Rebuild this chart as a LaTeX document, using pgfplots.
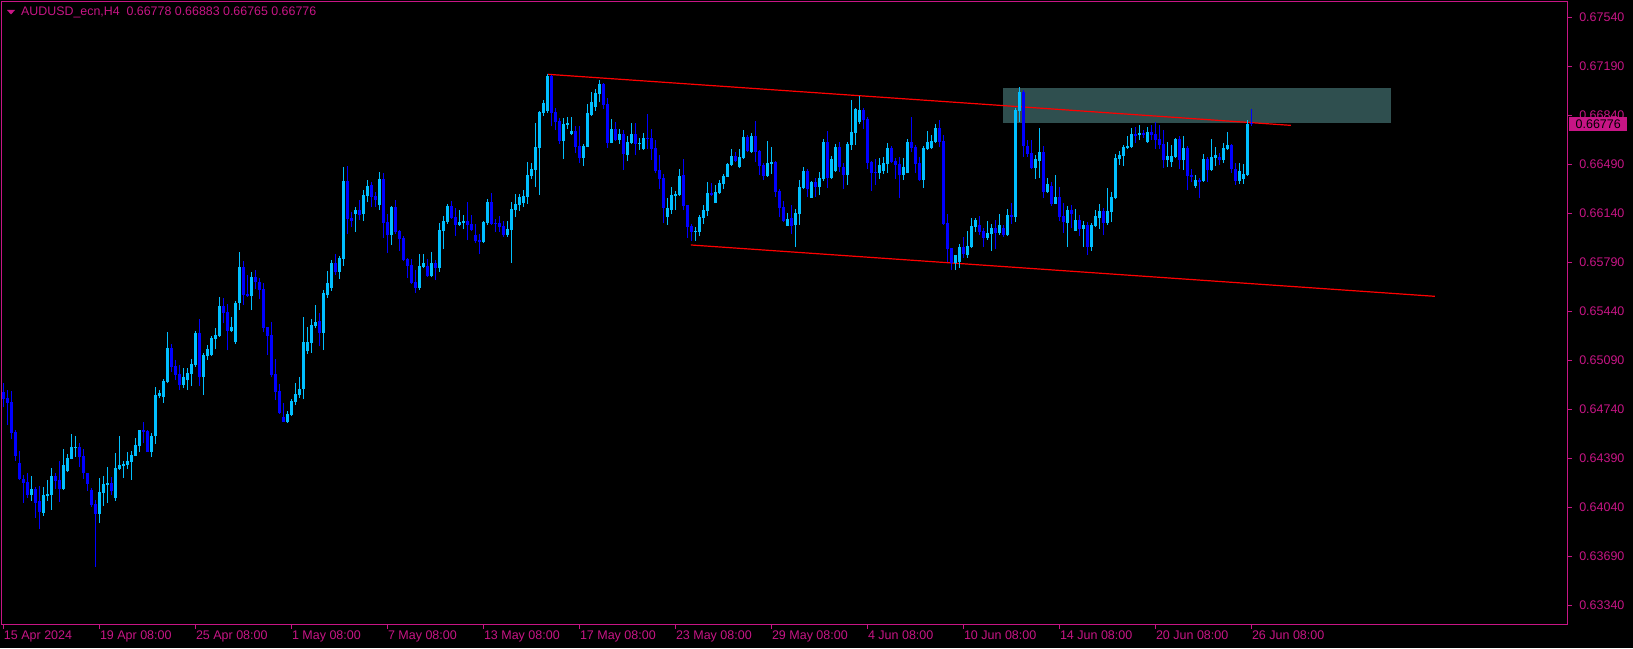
\documentclass[border=0pt]{standalone}
\usepackage{fontspec}
\setmainfont{Liberation Sans}
\usepackage{pgfplots}
\usepackage{pgfplotstable}
\pgfplotsset{compat=1.18}
\definecolor{mvr}{RGB}{199,21,133}
\definecolor{bullc}{RGB}{0,191,255}
\definecolor{bearc}{RGB}{0,0,255}
\definecolor{zone}{RGB}{47,79,79}

% bullish candles (close >= open)
\pgfplotstableread{
k o h l c
7 0.64129 0.64262 0.64086 0.64167
10 0.63998 0.64186 0.63979 0.64126
11 0.64119 0.64234 0.64086 0.64134
12 0.64129 0.64319 0.64022 0.64262
15 0.64169 0.64455 0.64162 0.64341
16 0.64298 0.64422 0.64291 0.64391
17 0.64386 0.64562 0.64381 0.64467
18 0.64462 0.64548 0.64400 0.64470
24 0.63993 0.64250 0.63929 0.64148
25 0.64143 0.64262 0.64050 0.64205
26 0.64198 0.64327 0.64072 0.64212
28 0.64107 0.64427 0.64086 0.64319
29 0.64312 0.64548 0.64305 0.64339
30 0.64334 0.64369 0.64250 0.64348
31 0.64343 0.64434 0.64312 0.64369
32 0.64365 0.64441 0.64236 0.64412
33 0.64408 0.64534 0.64405 0.64484
34 0.64477 0.64591 0.64436 0.64591
37 0.64436 0.64567 0.64400 0.64548
38 0.64548 0.64898 0.64493 0.64841
39 0.64837 0.64877 0.64817 0.64856
40 0.64829 0.64956 0.64786 0.64941
41 0.64937 0.65292 0.64925 0.65177
45 0.64913 0.65032 0.64889 0.64970
46 0.64948 0.65032 0.64877 0.64996
47 0.64991 0.65096 0.64906 0.65063
48 0.65056 0.65299 0.65044 0.65287
50 0.64972 0.65139 0.64841 0.65127
51 0.65120 0.65200 0.65092 0.65170
52 0.65127 0.65263 0.65120 0.65251
53 0.65242 0.65318 0.65170 0.65270
54 0.65263 0.65544 0.65258 0.65478
57 0.65299 0.65397 0.65292 0.65330
58 0.65220 0.65513 0.65206 0.65497
59 0.65501 0.65864 0.65449 0.65756
62 0.65549 0.65721 0.65449 0.65685
71 0.64648 0.64729 0.64644 0.64706
72 0.64698 0.64813 0.64691 0.64798
73 0.64794 0.64925 0.64770 0.64848
74 0.64841 0.64970 0.64822 0.64884
75 0.64884 0.65401 0.64813 0.65220
76 0.65156 0.65330 0.65137 0.65220
77 0.65215 0.65385 0.65144 0.65342
78 0.65337 0.65485 0.65318 0.65363
80 0.65287 0.65592 0.65163 0.65571
81 0.65556 0.65728 0.65537 0.65642
82 0.65606 0.65806 0.65587 0.65785
84 0.65721 0.65835 0.65671 0.65821
85 0.65814 0.66471 0.65766 0.66371
88 0.66135 0.66185 0.66007 0.66164
90 0.66135 0.66307 0.66085 0.66271
91 0.66264 0.66378 0.66221 0.66335
94 0.66200 0.66436 0.66164 0.66386
97 0.65985 0.66192 0.65914 0.66185
104 0.65606 0.65849 0.65592 0.65764
105 0.65759 0.65847 0.65747 0.65785
107 0.65692 0.65864 0.65683 0.65785
109 0.65749 0.66069 0.65721 0.66021
110 0.66016 0.66121 0.65885 0.66085
111 0.66078 0.66207 0.66064 0.66195
114 0.66057 0.66164 0.66050 0.66078
115 0.66071 0.66128 0.66028 0.66085
120 0.65935 0.66085 0.65928 0.66078
121 0.66071 0.66243 0.66057 0.66221
126 0.65985 0.66085 0.65971 0.66028
127 0.66021 0.66221 0.65787 0.66171
128 0.66164 0.66276 0.66114 0.66207
129 0.66200 0.66278 0.66157 0.66257
130 0.66214 0.66307 0.66185 0.66264
131 0.66257 0.66507 0.66207 0.66414
132 0.66407 0.66500 0.66386 0.66457
133 0.66450 0.66786 0.66328 0.66614
134 0.66607 0.66872 0.66271 0.66865
135 0.66857 0.66950 0.66836 0.66929
136 0.66872 0.67136 0.66857 0.67122
140 0.66657 0.66822 0.66528 0.66779
141 0.66772 0.66829 0.66743 0.66786
142 0.66707 0.66829 0.66700 0.66729
145 0.66536 0.66636 0.66478 0.66621
146 0.66614 0.66922 0.66614 0.66857
147 0.66843 0.67007 0.66836 0.66936
148 0.66900 0.67029 0.66872 0.67000
149 0.66993 0.67093 0.66936 0.67065
152 0.66645 0.66814 0.66640 0.66743
154 0.66664 0.66743 0.66636 0.66707
156 0.66557 0.66693 0.66514 0.66650
157 0.66643 0.66786 0.66636 0.66707
159 0.66636 0.66679 0.66593 0.66643
160 0.66600 0.66714 0.66593 0.66679
166 0.66114 0.66250 0.66057 0.66178
167 0.66164 0.66328 0.66135 0.66271
168 0.66264 0.66300 0.66164 0.66278
169 0.66271 0.66457 0.66264 0.66407
173 0.66007 0.66042 0.65942 0.66014
174 0.66007 0.66128 0.65978 0.66114
175 0.66107 0.66200 0.66064 0.66164
176 0.66157 0.66364 0.66121 0.66285
178 0.66214 0.66343 0.66214 0.66293
179 0.66285 0.66378 0.66278 0.66357
180 0.66350 0.66421 0.66314 0.66407
181 0.66402 0.66500 0.66400 0.66493
182 0.66486 0.66600 0.66478 0.66550
184 0.66471 0.66600 0.66464 0.66543
185 0.66536 0.66736 0.66528 0.66686
187 0.66579 0.66714 0.66571 0.66693
191 0.66407 0.66657 0.66400 0.66500
192 0.66493 0.66614 0.66421 0.66507
196 0.66049 0.66142 0.66049 0.66100
198 0.66057 0.66171 0.65899 0.66142
199 0.66135 0.66378 0.66057 0.66328
200 0.66321 0.66471 0.66314 0.66443
202 0.66250 0.66371 0.66250 0.66364
204 0.66328 0.66436 0.66271 0.66393
205 0.66388 0.66671 0.66371 0.66650
207 0.66393 0.66550 0.66385 0.66528
208 0.66443 0.66636 0.66436 0.66614
211 0.66414 0.66650 0.66343 0.66636
212 0.66629 0.66950 0.66593 0.66721
213 0.66714 0.66893 0.66629 0.66886
214 0.66793 0.66979 0.66779 0.66879
219 0.66428 0.66536 0.66385 0.66486
220 0.66443 0.66543 0.66421 0.66500
221 0.66493 0.66643 0.66428 0.66607
225 0.66414 0.66536 0.66378 0.66471
226 0.66428 0.66671 0.66428 0.66650
230 0.66378 0.66621 0.66321 0.66607
231 0.66600 0.66729 0.66593 0.66650
232 0.66607 0.66700 0.66600 0.66657
233 0.66650 0.66779 0.66643 0.66750
238 0.65787 0.65842 0.65735 0.65842
239 0.65792 0.65921 0.65752 0.65899
241 0.65842 0.66014 0.65821 0.65906
242 0.65899 0.66107 0.65892 0.66049
243 0.66042 0.66107 0.66007 0.66092
246 0.65964 0.66085 0.65949 0.65999
247 0.65992 0.66064 0.65871 0.66035
249 0.65999 0.66135 0.65985 0.66057
251 0.65985 0.66171 0.65978 0.66128
253 0.66114 0.66893 0.66078 0.66879
254 0.66872 0.67043 0.66793 0.67007
258 0.66464 0.66557 0.66385 0.66528
259 0.66514 0.66750 0.66393 0.66578
261 0.66293 0.66393 0.66285 0.66350
263 0.66207 0.66414 0.66207 0.66257
266 0.66071 0.66192 0.65899 0.66164
268 0.66014 0.66171 0.66014 0.66092
270 0.66028 0.66085 0.65899 0.66057
272 0.65899 0.66071 0.65871 0.66057
273 0.66049 0.66164 0.66042 0.66121
274 0.66107 0.66207 0.66028 0.66157
276 0.66071 0.66321 0.66057 0.66157
277 0.66150 0.66293 0.66078 0.66257
278 0.66250 0.66564 0.66242 0.66536
279 0.66528 0.66586 0.66486 0.66557
280 0.66550 0.66629 0.66478 0.66614
281 0.66607 0.66693 0.66600 0.66621
282 0.66614 0.66750 0.66607 0.66707
284 0.66700 0.66771 0.66664 0.66714
286 0.66650 0.66757 0.66643 0.66721
291 0.66521 0.66650 0.66471 0.66550
292 0.66507 0.66629 0.66471 0.66550
293 0.66543 0.66679 0.66536 0.66671
295 0.66521 0.66693 0.66450 0.66607
298 0.66335 0.66414 0.66321 0.66378
300 0.66371 0.66564 0.66364 0.66528
302 0.66450 0.66671 0.66443 0.66543
303 0.66536 0.66614 0.66478 0.66557
305 0.66521 0.66643 0.66500 0.66607
306 0.66600 0.66721 0.66593 0.66629
309 0.66371 0.66500 0.66350 0.66443
310 0.66385 0.66493 0.66350 0.66421
311 0.66414 0.66807 0.66407 0.66778
}\bull

% bearish candles (close < open)
\pgfplotstableread{
k o h l c
0 0.64865 0.64929 0.64753 0.64810
1 0.64822 0.64877 0.64627 0.64787
2 0.64791 0.64868 0.64527 0.64572
3 0.64577 0.64591 0.64372 0.64408
4 0.64353 0.64441 0.64234 0.64238
5 0.64238 0.64269 0.64072 0.64215
6 0.64219 0.64281 0.64107 0.64129
8 0.64167 0.64181 0.63964 0.64072
9 0.64084 0.64191 0.63886 0.64007
13 0.64262 0.64281 0.64172 0.64229
14 0.64234 0.64367 0.64079 0.64169
19 0.64467 0.64496 0.64329 0.64400
20 0.64405 0.64453 0.64243 0.64281
21 0.64281 0.64286 0.64157 0.64207
22 0.64162 0.64174 0.64043 0.64057
23 0.64062 0.64091 0.63614 0.63993
27 0.64212 0.64257 0.64126 0.64155
35 0.64593 0.64648 0.64496 0.64579
36 0.64584 0.64591 0.64436 0.64436
42 0.65177 0.65206 0.65008 0.65039
43 0.65049 0.65092 0.64949 0.64984
44 0.64991 0.65056 0.64877 0.64913
49 0.65287 0.65382 0.64906 0.64972
55 0.65478 0.65532 0.65354 0.65425
56 0.65435 0.65492 0.65163 0.65299
60 0.65756 0.65799 0.65485 0.65556
61 0.65563 0.65699 0.65544 0.65549
63 0.65685 0.65735 0.65602 0.65652
64 0.65652 0.65675 0.65525 0.65594
65 0.65599 0.65642 0.65292 0.65323
66 0.65325 0.65330 0.65127 0.65266
67 0.65270 0.65366 0.64968 0.64984
68 0.64991 0.65099 0.64806 0.64865
69 0.64870 0.64920 0.64706 0.64715
70 0.64686 0.64782 0.64651 0.64651
79 0.65370 0.65425 0.65194 0.65287
83 0.65785 0.65849 0.65697 0.65721
86 0.66371 0.66478 0.65992 0.66100
87 0.66107 0.66150 0.66042 0.66085
89 0.66164 0.66235 0.66092 0.66128
92 0.66343 0.66364 0.66185 0.66257
93 0.66264 0.66293 0.66185 0.66235
95 0.66386 0.66428 0.65964 0.66071
96 0.66078 0.66135 0.65856 0.65985
98 0.66185 0.66235 0.65992 0.66007
99 0.66014 0.66021 0.65871 0.65957
100 0.65964 0.65978 0.65799 0.65806
101 0.65814 0.65821 0.65678 0.65764
102 0.65771 0.65814 0.65635 0.65642
103 0.65649 0.65735 0.65571 0.65606
106 0.65766 0.65814 0.65687 0.65694
108 0.65785 0.65806 0.65663 0.65749
112 0.66195 0.66228 0.66100 0.66107
113 0.66114 0.66178 0.65978 0.66057
116 0.66085 0.66221 0.65949 0.66057
117 0.66064 0.66128 0.66014 0.66021
118 0.65985 0.66064 0.65928 0.65942
119 0.65949 0.65992 0.65849 0.65935
122 0.66221 0.66283 0.66057 0.66064
123 0.66071 0.66100 0.66007 0.66064
124 0.66071 0.66121 0.66007 0.66042
125 0.66050 0.66085 0.65971 0.65985
137 0.67122 0.67129 0.66764 0.66857
138 0.66865 0.66893 0.66736 0.66793
139 0.66800 0.66822 0.66636 0.66657
143 0.66729 0.66764 0.66571 0.66614
144 0.66621 0.66764 0.66500 0.66536
150 0.67065 0.67072 0.66886 0.66915
151 0.66922 0.66965 0.66607 0.66643
153 0.66743 0.66793 0.66660 0.66664
155 0.66707 0.66736 0.66450 0.66564
158 0.66707 0.66786 0.66557 0.66636
161 0.66679 0.66850 0.66600 0.66671
162 0.66679 0.66743 0.66521 0.66600
163 0.66607 0.66664 0.66428 0.66443
164 0.66450 0.66557 0.66314 0.66385
165 0.66393 0.66421 0.66069 0.66178
170 0.66414 0.66528 0.66164 0.66192
171 0.66200 0.66200 0.65964 0.66042
172 0.66049 0.66064 0.65942 0.66007
177 0.66285 0.66357 0.66264 0.66271
183 0.66550 0.66578 0.66507 0.66514
186 0.66686 0.66700 0.66579 0.66586
188 0.66693 0.66800 0.66507 0.66579
189 0.66586 0.66593 0.66414 0.66478
190 0.66485 0.66500 0.66378 0.66407
193 0.66507 0.66514 0.66257 0.66293
194 0.66300 0.66314 0.66114 0.66178
195 0.66185 0.66228 0.66078 0.66085
197 0.66107 0.66200 0.65992 0.66049
201 0.66443 0.66457 0.66257 0.66314
203 0.66364 0.66393 0.66257 0.66328
206 0.66650 0.66729 0.66321 0.66395
209 0.66614 0.66650 0.66436 0.66474
210 0.66471 0.66500 0.66314 0.66414
215 0.66879 0.66893 0.66743 0.66807
216 0.66814 0.66829 0.66457 0.66500
217 0.66507 0.66514 0.66300 0.66428
218 0.66435 0.66528 0.66343 0.66428
222 0.66607 0.66621 0.66500 0.66507
223 0.66514 0.66536 0.66385 0.66486
224 0.66493 0.66543 0.66250 0.66414
227 0.66650 0.66829 0.66578 0.66607
228 0.66614 0.66629 0.66428 0.66493
229 0.66500 0.66543 0.66371 0.66378
234 0.66750 0.66807 0.66614 0.66650
235 0.66657 0.66700 0.66057 0.66064
236 0.66071 0.66135 0.65792 0.65885
237 0.65892 0.65892 0.65735 0.65787
240 0.65899 0.65971 0.65821 0.65849
244 0.66057 0.66121 0.65985 0.66007
245 0.66014 0.66035 0.65899 0.65964
248 0.66035 0.66092 0.65885 0.65999
250 0.66035 0.66057 0.65971 0.65985
252 0.66128 0.66214 0.66064 0.66114
255 0.67007 0.67022 0.66543 0.66621
256 0.66621 0.66664 0.66543 0.66564
257 0.66571 0.66664 0.66457 0.66464
260 0.66578 0.66621 0.66250 0.66293
262 0.66335 0.66364 0.66192 0.66207
264 0.66257 0.66328 0.66085 0.66114
265 0.66121 0.66214 0.65999 0.66078
267 0.66164 0.66200 0.66035 0.66135
269 0.66092 0.66128 0.65978 0.66028
271 0.66057 0.66078 0.65842 0.65899
275 0.66157 0.66178 0.65985 0.66071
283 0.66707 0.66757 0.66643 0.66693
285 0.66714 0.66736 0.66679 0.66700
287 0.66721 0.66771 0.66664 0.66700
288 0.66707 0.66793 0.66600 0.66664
289 0.66671 0.66771 0.66600 0.66629
290 0.66636 0.66736 0.66464 0.66521
294 0.66671 0.66693 0.66457 0.66521
296 0.66607 0.66621 0.66307 0.66407
297 0.66414 0.66457 0.66364 0.66400
299 0.66378 0.66393 0.66250 0.66364
301 0.66528 0.66543 0.66364 0.66450
304 0.66543 0.66571 0.66486 0.66521
307 0.66629 0.66636 0.66428 0.66457
308 0.66457 0.66500 0.66343 0.66371
312 0.66778 0.66883 0.66765 0.66776
}\bear

% zone rectangle and channel lines
\pgfplotstableread{
x y
249.925 0.66786
346.925 0.66786
346.925 0.67036
249.925 0.67036
}\zonetab
\pgfplotstableread{
x y
136.1 0.67134
321.9 0.66769
}\uppertab
\pgfplotstableread{
x y
171.9 0.65914
357.9 0.65547
}\lowertab

\begin{document}
\begin{tikzpicture}[x=1pt,y=1pt]
\useasboundingbox (0,0) rectangle (1633,648);
\fill[black] (0,0) rectangle (1633,648);
\begin{axis}[
  at={(2pt,24pt)}, anchor=south west,
  scale only axis, width=1565pt, height=622pt,
  xmin=-0.325, xmax=390.925,
  ymin=0.632049, ymax=0.676508,
  clip=false,
  axis line style={draw=mvr, line width=1pt},
  tick align=outside, major tick length=5pt,
  tick style={draw=mvr, line width=1pt},
  xtick pos=bottom, ytick pos=right, yticklabel pos=right,
  xtick={0,24,48,72,96,120,144,168,192,216,240,264,288,312},
  xticklabels={15 Apr 2024,19 Apr 08:00,25 Apr 08:00,1 May 08:00,7 May 08:00,13 May 08:00,17 May 08:00,23 May 08:00,29 May 08:00,4 Jun 08:00,10 Jun 08:00,14 Jun 08:00,20 Jun 08:00,26 Jun 08:00},
  ytick={0.6334,0.6369,0.6404,0.6439,0.6474,0.6509,0.6544,0.6579,0.6614,0.6649,0.6684,0.6719,0.6754},
  yticklabels={0.63340,0.63690,0.64040,0.64390,0.64740,0.65090,0.65440,0.65790,0.66140,0.66490,0.66840,0.67190,0.67540},
  xticklabel style={anchor=north west, inner sep=0pt, font=\fontsize{12.5}{14}\selectfont, text=mvr, xshift=0.5pt, yshift=-2pt},
  yticklabel style={anchor=west, inner sep=0pt, font=\fontsize{12.5}{14}\selectfont, text=mvr, xshift=7pt},
]
% zone
\addplot[fill=zone, draw=none, forget plot] table[x=x,y=y]{\zonetab} -- cycle;
% channel lines
\addplot[red, line width=1.2pt, forget plot] table[x=x,y=y]{\uppertab};
\addplot[red, line width=1.2pt, forget plot] table[x=x,y=y]{\lowertab};
% wicks
\addplot[draw=none, mark=none, forget plot, error bars/.cd, y dir=plus, y explicit, error mark=none,
  error bar style={line width=1pt, draw=bullc}]
  table[x=k, y=l, y error expr=\thisrow{h}-\thisrow{l}]{\bull};
\addplot[draw=none, mark=none, forget plot, error bars/.cd, y dir=plus, y explicit, error mark=none,
  error bar style={line width=1pt, draw=bearc}]
  table[x=k, y=l, y error expr=\thisrow{h}-\thisrow{l}]{\bear};
% bodies
\addplot[draw=none, mark=none, forget plot, error bars/.cd, y dir=plus, y explicit, error mark=none,
  error bar style={line width=3pt, draw=bullc}]
  table[x=k, y=o, y error expr={max(\thisrow{c}-\thisrow{o},0.00007)}]{\bull};
\addplot[draw=none, mark=none, forget plot, error bars/.cd, y dir=plus, y explicit, error mark=none,
  error bar style={line width=3pt, draw=bearc}]
  table[x=k, y=c, y error expr={max(\thisrow{o}-\thisrow{c},0.00007)}]{\bear};
% current price label
\node[fill=mvr, text=black, anchor=west, inner sep=0pt, minimum width=58pt, minimum height=14pt,
  font=\fontsize{12.5}{14}\selectfont] at (axis cs:390.925,0.66776) [xshift=2pt] {0.66776};
\end{axis}
\fill[mvr] (7,638) -- (15,638) -- (11,633.5) -- cycle;
\node[anchor=west, inner sep=0pt, text=mvr, font=\fontsize{12.4}{14}\selectfont] at (21,635.5)
  {AUDUSD\_ecn,H4\ \ 0.66778 0.66883 0.66765 0.66776};
\end{tikzpicture}
\end{document}
